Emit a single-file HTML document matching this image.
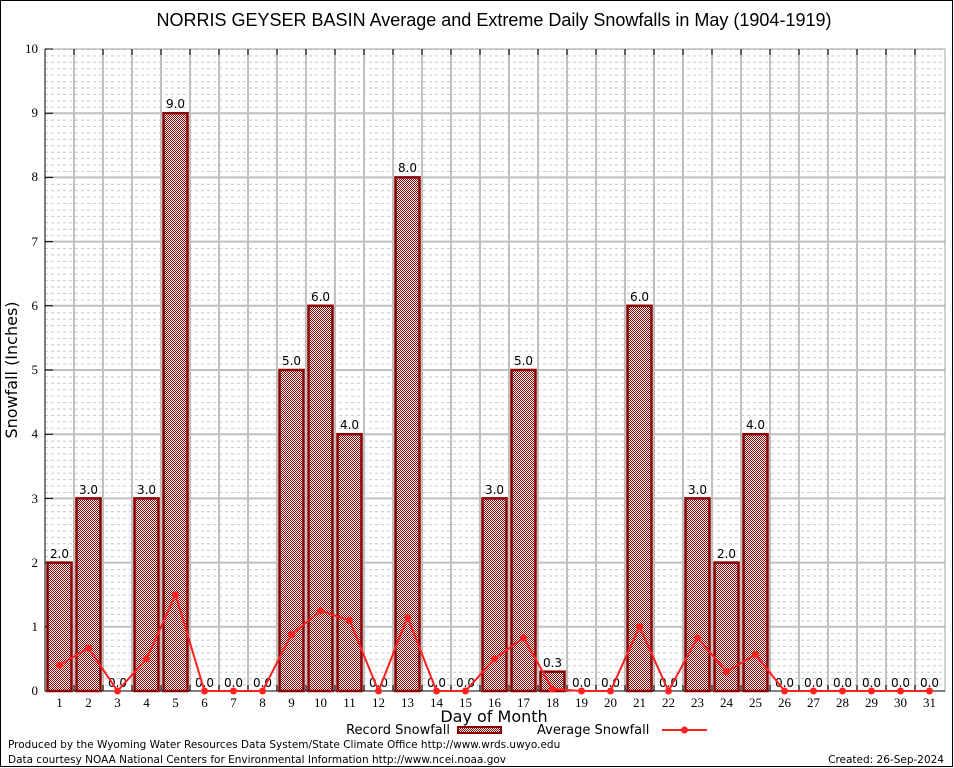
<!DOCTYPE html>
<html><head><meta charset="utf-8"><style>body{margin:0;background:#fff}svg{display:block}</style></head>
<body>
<svg width="954" height="768" xmlns="http://www.w3.org/2000/svg">
<defs>
<pattern id="chk" width="2" height="2" patternUnits="userSpaceOnUse">
<rect width="2" height="2" fill="#fff" shape-rendering="crispEdges"/><rect width="1" height="1" fill="#8b0000" shape-rendering="crispEdges"/><rect x="1" y="1" width="1" height="1" fill="#8b0000" shape-rendering="crispEdges"/>
</pattern>
<pattern id="minor" x="45" y="691" width="900" height="6.42" patternUnits="userSpaceOnUse">
<line x1="0" y1="0.5" x2="900" y2="0.5" stroke="#c8c8c8" stroke-width="1" stroke-dasharray="3,3"/>
</pattern>
</defs>
<rect x="0.5" y="0.5" width="952" height="766" fill="#fff" stroke="#000"/>
<text x="494" y="26" font-family="Liberation Sans, sans-serif" font-size="18" text-anchor="middle">NORRIS GEYSER BASIN Average and Extreme Daily Snowfalls in May (1904-1919)</text>
<rect x="45" y="49" width="900" height="642" fill="url(#minor)"/>
<g stroke="#c0c0c0" stroke-width="2">
<path d="M45 626.8H945M45 562.6H945M45 498.4H945M45 434.2H945M45 370H945M45 305.8H945M45 241.6H945M45 177.4H945M45 113.2H945"/>
<path d="M74 49V691M103 49V691M132 49V691M161 49V691M190 49V691M219 49V691M248 49V691M277 49V691M306 49V691M335 49V691M364 49V691M393 49V691M422 49V691M451 49V691M480 49V691M509 49V691M538 49V691M567 49V691M596 49V691M625 49V691M654 49V691M683 49V691M712 49V691M741 49V691M770 49V691M799 49V691M828 49V691M857 49V691M886 49V691M915 49V691"/>
</g>
<rect x="45" y="49" width="900" height="642" fill="none" stroke="#a0a0a0" stroke-width="1"/>
<g stroke="#000" stroke-width="1">
<path d="M45 626.8h8M45 562.6h8M45 498.4h8M45 434.2h8M45 370h8M45 305.8h8M45 241.6h8M45 177.4h8M45 113.2h8M45 49h8"/>
<path d="M74 691v-6M103 691v-6M132 691v-6M161 691v-6M190 691v-6M219 691v-6M248 691v-6M277 691v-6M306 691v-6M335 691v-6M364 691v-6M393 691v-6M422 691v-6M451 691v-6M480 691v-6M509 691v-6M538 691v-6M567 691v-6M596 691v-6M625 691v-6M654 691v-6M683 691v-6M712 691v-6M741 691v-6M770 691v-6M799 691v-6M828 691v-6M857 691v-6M886 691v-6M915 691v-6"/>
<path d="M74 49v6M103 49v6M132 49v6M161 49v6M190 49v6M219 49v6M248 49v6M277 49v6M306 49v6M335 49v6M364 49v6M393 49v6M422 49v6M451 49v6M480 49v6M509 49v6M538 49v6M567 49v6M596 49v6M625 49v6M654 49v6M683 49v6M712 49v6M741 49v6M770 49v6M799 49v6M828 49v6M857 49v6M886 49v6M915 49v6"/>
</g>
<line x1="45" y1="49" x2="45" y2="691" stroke="#000"/>
<line x1="45" y1="691" x2="945" y2="691" stroke="#000"/>
<g fill="url(#chk)" stroke="#8b0000" stroke-width="2.5">
<rect x="47.5" y="562.6" width="24" height="128.4"/>
<rect x="76.5" y="498.4" width="24" height="192.6"/>
<rect x="134.5" y="498.4" width="24" height="192.6"/>
<rect x="163.5" y="113.2" width="24" height="577.8"/>
<rect x="279.5" y="370" width="24" height="321"/>
<rect x="308.5" y="305.8" width="24" height="385.2"/>
<rect x="337.5" y="434.2" width="24" height="256.8"/>
<rect x="395.5" y="177.4" width="24" height="513.6"/>
<rect x="482.5" y="498.4" width="24" height="192.6"/>
<rect x="511.5" y="370" width="24" height="321"/>
<rect x="540.5" y="671.7" width="24" height="19.3"/>
<rect x="627.5" y="305.8" width="24" height="385.2"/>
<rect x="685.5" y="498.4" width="24" height="192.6"/>
<rect x="714.5" y="562.6" width="24" height="128.4"/>
<rect x="743.5" y="434.2" width="24" height="256.8"/>
</g>
<g font-family="DejaVu Sans, sans-serif" font-size="12" text-anchor="middle" fill="#000">
<text x="59.5" y="558">2.0</text><text x="88.5" y="494">3.0</text><text x="117.5" y="687">0.0</text><text x="146.5" y="494">3.0</text><text x="175.5" y="108">9.0</text><text x="204.5" y="687">0.0</text><text x="233.5" y="687">0.0</text><text x="262.5" y="687">0.0</text><text x="291.5" y="365">5.0</text><text x="320.5" y="301">6.0</text><text x="349.5" y="429">4.0</text><text x="378.5" y="687">0.0</text><text x="407.5" y="172">8.0</text><text x="436.5" y="687">0.0</text><text x="465.5" y="687">0.0</text><text x="494.5" y="494">3.0</text><text x="523.5" y="365">5.0</text><text x="552.5" y="667">0.3</text><text x="581.5" y="687">0.0</text><text x="610.5" y="687">0.0</text><text x="639.5" y="301">6.0</text><text x="668.5" y="687">0.0</text><text x="697.5" y="494">3.0</text><text x="726.5" y="558">2.0</text><text x="755.5" y="429">4.0</text><text x="784.5" y="687">0.0</text><text x="813.5" y="687">0.0</text><text x="842.5" y="687">0.0</text><text x="871.5" y="687">0.0</text><text x="900.5" y="687">0.0</text><text x="929.5" y="687">0.0</text>
</g>
<polyline fill="none" stroke="#ff2020" stroke-width="2" points="59.5,665.3 88.5,648 117.5,691 146.5,658.9 175.5,594.7 204.5,691 233.5,691 262.5,691 291.5,634.5 320.5,610.8 349.5,620.4 378.5,691 407.5,617.2 436.5,691 465.5,691 494.5,658.9 523.5,637.7 552.5,689 581.5,691 610.5,691 639.5,626.8 668.5,691 697.5,637.7 726.5,671.7 755.5,654.4 784.5,691 813.5,691 842.5,691 871.5,691 900.5,691 929.5,691"/>
<g fill="#ff2020">
<circle cx="59.5" cy="665.3" r="3.5"/><circle cx="88.5" cy="648" r="3.5"/><circle cx="117.5" cy="691" r="3.5"/><circle cx="146.5" cy="658.9" r="3.5"/><circle cx="175.5" cy="594.7" r="3.5"/><circle cx="204.5" cy="691" r="3.5"/><circle cx="233.5" cy="691" r="3.5"/><circle cx="262.5" cy="691" r="3.5"/><circle cx="291.5" cy="634.5" r="3.5"/><circle cx="320.5" cy="610.8" r="3.5"/><circle cx="349.5" cy="620.4" r="3.5"/><circle cx="378.5" cy="691" r="3.5"/><circle cx="407.5" cy="617.2" r="3.5"/><circle cx="436.5" cy="691" r="3.5"/><circle cx="465.5" cy="691" r="3.5"/><circle cx="494.5" cy="658.9" r="3.5"/><circle cx="523.5" cy="637.7" r="3.5"/><circle cx="552.5" cy="689" r="3.5"/><circle cx="581.5" cy="691" r="3.5"/><circle cx="610.5" cy="691" r="3.5"/><circle cx="639.5" cy="626.8" r="3.5"/><circle cx="668.5" cy="691" r="3.5"/><circle cx="697.5" cy="637.7" r="3.5"/><circle cx="726.5" cy="671.7" r="3.5"/><circle cx="755.5" cy="654.4" r="3.5"/><circle cx="784.5" cy="691" r="3.5"/><circle cx="813.5" cy="691" r="3.5"/><circle cx="842.5" cy="691" r="3.5"/><circle cx="871.5" cy="691" r="3.5"/><circle cx="900.5" cy="691" r="3.5"/><circle cx="929.5" cy="691" r="3.5"/>
</g>
<g font-family="Liberation Serif, serif" font-size="13" text-anchor="end" fill="#000">
<text x="38" y="695">0</text><text x="38" y="631">1</text><text x="38" y="567">2</text><text x="38" y="503">3</text><text x="38" y="438">4</text><text x="38" y="374">5</text><text x="38" y="310">6</text><text x="38" y="246">7</text><text x="38" y="181">8</text><text x="38" y="117">9</text><text x="38" y="53">10</text>
</g>
<g font-family="Liberation Serif, serif" font-size="13" text-anchor="middle" fill="#000">
<text x="59.5" y="707">1</text><text x="88.5" y="707">2</text><text x="117.5" y="707">3</text><text x="146.5" y="707">4</text><text x="175.5" y="707">5</text><text x="204.5" y="707">6</text><text x="233.5" y="707">7</text><text x="262.5" y="707">8</text><text x="291.5" y="707">9</text><text x="320.5" y="707">10</text><text x="349.5" y="707">11</text><text x="378.5" y="707">12</text><text x="407.5" y="707">13</text><text x="436.5" y="707">14</text><text x="465.5" y="707">15</text><text x="494.5" y="707">16</text><text x="523.5" y="707">17</text><text x="552.5" y="707">18</text><text x="581.5" y="707">19</text><text x="610.5" y="707">20</text><text x="639.5" y="707">21</text><text x="668.5" y="707">22</text><text x="697.5" y="707">23</text><text x="726.5" y="707">24</text><text x="755.5" y="707">25</text><text x="784.5" y="707">26</text><text x="813.5" y="707">27</text><text x="842.5" y="707">28</text><text x="871.5" y="707">29</text><text x="900.5" y="707">30</text><text x="929.5" y="707">31</text>
</g>
<text x="494" y="722" font-family="DejaVu Sans, sans-serif" font-size="16" text-anchor="middle">Day of Month</text>
<text transform="translate(17,370) rotate(-90)" font-family="DejaVu Sans, sans-serif" font-size="16" text-anchor="middle">Snowfall (Inches)</text>
<g font-family="DejaVu Sans, sans-serif" font-size="13" fill="#000">
<text x="450" y="734" text-anchor="end">Record Snowfall</text>
<text x="537" y="734">Average Snowfall</text>
</g>
<rect x="458" y="727" width="43" height="6" fill="url(#chk)" stroke="#8b0000" stroke-width="2"/>
<line x1="662" y1="730" x2="707" y2="730" stroke="#ff2020" stroke-width="2"/>
<circle cx="684.5" cy="730" r="3.5" fill="#ff2020"/>
<g font-family="DejaVu Sans, sans-serif" font-size="10.5" fill="#000">
<text x="8" y="748">Produced by the Wyoming Water Resources Data System/State Climate Office http://www.wrds.uwyo.edu</text>
<text x="8" y="763">Data courtesy NOAA National Centers for Environmental Information http://www.ncei.noaa.gov</text>
<text x="944" y="763" text-anchor="end">Created: 26-Sep-2024</text>
</g>
</svg>
</body></html>
